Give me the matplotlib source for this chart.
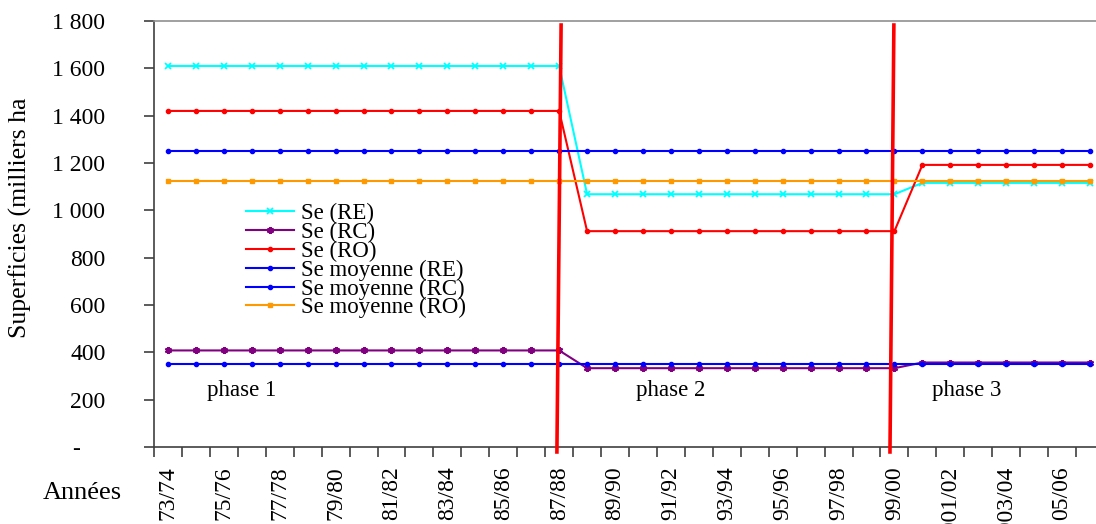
"""Superficies emblavées par phase, 73/74 - 06/07."""

import matplotlib
matplotlib.use("Agg")
import matplotlib.pyplot as plt
from matplotlib.transforms import ScaledTranslation
import numpy as np

plt.rcParams["font.family"] = ["Liberation Serif", "DejaVu Serif"]

# campagnes agricoles
years = (
    [f"{y}/{y + 1}" for y in range(73, 99)]
    + ["99/00", "2000/01", "2001/02", "2002/03", "2003/04", "2004/05", "05/06", "06/07"]
)

# superficies (milliers ha), par phase : 15 ans / 12 ans / 7 ans
se_re = [1610] * 15 + [1068] * 12 + [1116] * 7
se_rc = [408] * 15 + [333] * 12 + [357] * 7
se_ro = [1420] * 15 + [912] * 12 + [1192] * 7
moy_re = [1250] * 34
moy_rc = [351] * 34
moy_ro = [1125] * 34

# séparations de phases (haut, bas) en position de campagne
phase_bounds = [(14.07, 13.92), (25.98, 25.84)]
phase_labels = ["phase 1", "phase 2", "phase 3"]
phase_label_x = [2.65, 18.0, 28.6]

fig = plt.figure(figsize=(10.96, 5.24), dpi=100)
ax = fig.add_axes([154 / 1096, 77 / 524, 950 / 1096, 426 / 524])

x = np.arange(len(years))
ax.plot(x, se_re, color="#00FFFF", lw=1.5, marker="x", ms=4.5, mew=1.3, label="Se (RE)")
ax.plot(x, se_rc, color="#800080", lw=1.5, marker=(6, 2, 0), ms=5, mew=1.6, label="Se (RC)")
ax.plot(x, se_ro, color="#FF0000", lw=1.5, marker="o", ms=3, label="Se (RO)")
ax.plot(x, moy_re, color="#0000FF", lw=1.5, marker="o", ms=3, label="Se moyenne (RE)")
ax.plot(x, moy_rc, color="#0000FF", lw=1.5, marker="o", ms=3, label="Se moyenne (RC)")
ax.plot(x, moy_ro, color="#FF9900", lw=1.5, marker="s", ms=3.5, label="Se moyenne (RO)")

for top, bot in phase_bounds:
    ax.plot([top, bot], [1783, -21], color="#FF0000", lw=2.6, clip_on=False, zorder=5)

for lab, px in zip(phase_labels, phase_label_x):
    ax.text(px, 237, lab, fontsize=16.5, ha="center", va="center")

ax.set_xlim(-0.5, len(years) - 0.5)
ax.set_ylim(0, 1800)

ax.set_yticks(range(0, 1801, 200))
ax.set_yticklabels(["-"] + [f"{v:,}".replace(",", " ") for v in range(200, 1801, 200)])
ax.tick_params(axis="y", length=7, width=1.2, pad=28, labelsize=17, color="#404040")
dash = ax.get_yticklabels()[0]
dash.set_transform(dash.get_transform() + ScaledTranslation(-0.25, 0, fig.dpi_scale_trans))

ax.set_xticks(x[::2])
ax.set_xticklabels(years[::2], rotation=90)
ax.set_xticks(np.arange(-0.5, len(years)), minor=True)
ax.tick_params(axis="x", which="major", length=0, pad=14, labelsize=17)
ax.tick_params(axis="x", which="minor", length=7, width=1.2, color="#404040")

for side in ["left", "bottom"]:
    ax.spines[side].set_color("#404040")
    ax.spines[side].set_linewidth(1.2)
ax.spines["top"].set_color("#909090")
ax.spines["top"].set_linewidth(1.2)
ax.spines["right"].set_visible(False)

ax.legend(
    loc="upper left", bbox_to_anchor=(0.097, 0.573), frameon=False, fontsize=16.5,
    handlelength=2.1, handletextpad=0.3, labelspacing=-0.1, borderpad=0, borderaxespad=0,
)

fig.text(20 / 1096, 1 - 218 / 524, "Superficies (milliers ha", rotation=90,
         ha="center", va="center", fontsize=18.5)
fig.text(82 / 1096, 1 - 493 / 524, "Années", ha="center", va="center", fontsize=19)

fig.savefig("out.png", dpi=100)
